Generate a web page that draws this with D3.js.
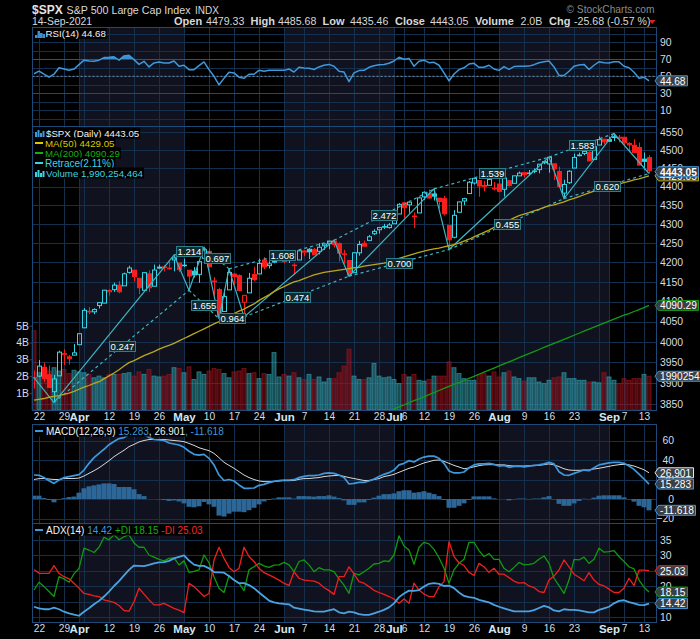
<!DOCTYPE html>
<html>
<head>
<meta charset="utf-8">
<script src="https://cdn.jsdelivr.net/npm/d3@7"></script>
<style>
html, body { margin: 0; padding: 0; background: #000; }
svg { display: block; }
text { font-family: "Liberation Sans", Arial, sans-serif; }
</style>
</head>
<body>
<svg id="chart" width="700" height="639"></svg>
<script>
// trading days shown on the chart
const dates = ["Mar 19","Mar 22","Mar 23","Mar 24","Mar 25","Mar 26","Mar 29","Mar 30","Mar 31","Apr 1",
  "Apr 5","Apr 6","Apr 7","Apr 8","Apr 9","Apr 12","Apr 13","Apr 14","Apr 15","Apr 16",
  "Apr 19","Apr 20","Apr 21","Apr 22","Apr 23","Apr 26","Apr 27","Apr 28","Apr 29","Apr 30",
  "May 3","May 4","May 5","May 6","May 7","May 10","May 11","May 12","May 13","May 14",
  "May 17","May 18","May 19","May 20","May 21","May 24","May 25","May 26","May 27","May 28",
  "Jun 1","Jun 2","Jun 3","Jun 4","Jun 7","Jun 8","Jun 9","Jun 10","Jun 11","Jun 14",
  "Jun 15","Jun 16","Jun 17","Jun 18","Jun 21","Jun 22","Jun 23","Jun 24","Jun 25","Jun 28",
  "Jun 29","Jun 30","Jul 1","Jul 2","Jul 6","Jul 7","Jul 8","Jul 9","Jul 12","Jul 13",
  "Jul 14","Jul 15","Jul 16","Jul 19","Jul 20","Jul 21","Jul 22","Jul 23","Jul 26","Jul 27",
  "Jul 28","Jul 29","Jul 30","Aug 2","Aug 3","Aug 4","Aug 5","Aug 6","Aug 9","Aug 10",
  "Aug 11","Aug 12","Aug 13","Aug 16","Aug 17","Aug 18","Aug 19","Aug 20","Aug 23","Aug 24",
  "Aug 25","Aug 26","Aug 27","Aug 30","Aug 31","Sep 1","Sep 2","Sep 3","Sep 7","Sep 8",
  "Sep 9","Sep 10","Sep 13","Sep 14"];

const opens = [3913.14,3916.48,3937.6,3919.93,3879.34,3917.12,3969.31,3963.34,3967.25,3992.78,
  4034.44,4075.57,4074.29,4089.95,4096.11,4124.71,4130.1,4141.58,4139.76,4174.14,
  4179.8,4159.18,4128.42,4170.46,4138.78,4185.03,4188.25,4185.14,4206.14,4198.1,
  4191.98,4179.8,4177.06,4169.14,4210.34,4228.29,4150.34,4130.55,4074.99,4129.58,
  4169.92,4165.94,4098.45,4121.97,4168.61,4170.16,4205.94,4191.59,4201.94,4210.77,
  4216.52,4206.82,4191.43,4206.05,4229.34,4233.81,4232.99,4228.56,4242.9,4248.31,
  4255.28,4248.87,4220.37,4204.78,4173.4,4224.61,4249.27,4256.97,4274.45,4284.9,
  4293.21,4290.65,4300.73,4326.6,4356.46,4351.01,4321.07,4329.38,4372.41,4381.07,
  4380.11,4369.02,4367.43,4296.4,4265.11,4331.13,4361.27,4381.2,4409.58,4416.38,
  4402.95,4403.59,4395.26,4406.86,4392.74,4415.95,4408.86,4429.07,4437.77,4435.79,
  4442.18,4446.08,4464.84,4461.65,4462.12,4440.94,4382.44,4410.56,4450.29,4484.4,
  4490.45,4493.75,4474.1,4513.76,4529.75,4528.8,4534.48,4532.42,4535.38,4518.09,
  4513.02,4506.92,4474.81,4479.33];
const highs = [3930.12,3955.31,3949.13,3942.08,3919.54,3978.19,3981.83,3968.01,3994.41,4020.63,
  4083.42,4086.23,4083.13,4098.19,4129.48,4131.76,4148,4151.69,4173.49,4191.31,
  4180.81,4159.18,4175.02,4179.57,4194.17,4194.19,4193.35,4201.53,4218.78,4198.1,
  4209.39,4179.8,4187.72,4202.7,4238.04,4236.39,4162.04,4134.73,4131.58,4183.13,
  4171.92,4169.15,4116.93,4172.8,4188.72,4209.52,4213.42,4202.61,4213.38,4218.36,
  4234.12,4217.37,4197.82,4233.45,4232.34,4236.74,4237.09,4249.74,4248.38,4255.59,
  4257.16,4251.89,4232.29,4204.78,4226.24,4255.84,4256.6,4271.28,4286.12,4292.14,
  4300.52,4302.43,4320.66,4355.43,4356.46,4361.88,4330.88,4371.6,4386.68,4392.37,
  4393.68,4369.02,4375.09,4296.4,4336.84,4359.7,4369.87,4415.18,4422.73,4416.38,
  4415.47,4429.97,4412.25,4422.18,4423.79,4416.17,4429.76,4440.82,4439.39,4445.21,
  4449.44,4461.77,4468.37,4480.26,4462.12,4454.32,4418.61,4444.35,4489.88,4492.81,
  4501.71,4495.9,4513.33,4537.36,4531.39,4537.11,4545.85,4541.45,4535.38,4521.79,
  4529.9,4520.47,4492.99,4485.68];
const lows = [3886.75,3914.16,3901.57,3889.07,3853.5,3917.12,3943.25,3944.35,3966.98,3992.78,
  4034.44,4068.14,4068.31,4082.54,4095.51,4114.82,4124.43,4120.87,4139.76,4170.75,
  4150.47,4118.38,4126.01,4123.69,4138.78,4182.36,4176.22,4181.78,4176.81,4174.85,
  4188.03,4128.59,4160.94,4147.33,4201.64,4188.13,4111.53,4056.88,4074.99,4129.58,
  4142.69,4125.99,4061.41,4121.97,4151.72,4170.16,4182.52,4184.11,4197.78,4203.57,
  4197.59,4198.27,4167.38,4206.05,4215.66,4208.41,4218.74,4220.34,4232.25,4234.07,
  4238.35,4202.45,4196.05,4164.4,4173.4,4217.27,4241.43,4256.97,4271.16,4274.67,
  4287.04,4287.96,4300.73,4326.6,4314.37,4329.79,4289.37,4329.38,4364.03,4366.92,
  4362.36,4340.7,4322.53,4233.13,4262.05,4331.13,4350.06,4381.2,4405.45,4372.51,
  4387.01,4403.59,4389.65,4384.81,4373,4400.23,4408.86,4429.07,4424.74,4430.03,
  4436.42,4435.96,4460.82,4437.66,4417.83,4397.59,4367.73,4406.8,4450.29,4482.28,
  4485.66,4468.99,4474.1,4513.76,4515.8,4522.02,4524.66,4521.3,4513,4493.95,
  4492.07,4457.66,4445.7,4435.46];
const closes = [3913.1,3940.59,3910.52,3889.14,3909.52,3974.54,3971.09,3958.55,3972.89,4019.87,
  4077.91,4073.94,4079.95,4097.17,4128.8,4127.99,4141.59,4124.66,4170.42,4185.47,
  4163.26,4134.94,4173.42,4134.98,4180.17,4187.62,4186.72,4183.18,4211.47,4181.17,
  4192.66,4164.66,4167.59,4201.62,4232.6,4188.43,4152.1,4063.04,4112.5,4173.85,
  4163.29,4127.83,4115.68,4159.12,4155.86,4197.05,4188.13,4195.99,4200.88,4204.11,
  4202.04,4208.12,4192.85,4229.89,4226.52,4227.26,4219.55,4239.18,4247.44,4255.15,
  4246.59,4223.7,4221.86,4166.45,4224.79,4246.44,4241.84,4266.49,4280.7,4290.61,
  4291.8,4297.5,4319.94,4352.34,4343.54,4358.13,4320.82,4369.55,4384.63,4369.21,
  4374.3,4360.03,4327.16,4258.49,4323.06,4358.69,4367.48,4411.79,4422.3,4401.46,
  4400.64,4419.15,4395.26,4387.16,4423.15,4402.66,4429.1,4436.52,4432.35,4436.75,
  4442.41,4460.83,4468,4479.71,4448.08,4400.27,4405.8,4441.67,4479.53,4486.23,
  4496.19,4470,4509.37,4528.79,4522.68,4524.09,4536.95,4535.43,4520.03,4514.07,
  4493.28,4458.58,4468.73,4443.05];
const closeBefore = 3915.46; // close of the day before the first bar

// volume in billions
const volumes = [4.7,2.2,2.35,2.3,2.5,2.3,2.4,2.15,2.35,2.25,
  2.2,2.1,1.9,2,1.9,2.1,2.1,2.1,2.15,2.2,
  2,2.25,2.1,2.4,2,1.95,2,2.1,2.5,2.45,
  2.2,2.55,1.8,2.25,2.1,2.3,2.45,2.4,2.15,1.9,
  2.25,2.3,2.45,2.15,2.2,1.85,2.15,2.1,3.4,1.95,
  2.1,2,2.2,1.9,1.8,2.1,1.8,1.95,1.65,1.85,
  1.85,2.2,2.6,3.6,2,1.8,1.8,1.9,2.75,2,
  1.9,1.95,1.8,1.55,2.1,1.95,2.1,1.75,1.7,1.8,
  2,2,2,2.85,2.5,2.15,1.85,1.75,1.75,2.1,
  2.15,2,2.25,1.95,2.2,2.3,1.95,1.85,1.7,1.9,
  1.9,1.65,1.55,1.75,1.9,1.95,2.2,1.85,1.85,1.75,
  1.75,1.65,1.65,1.6,2.2,1.95,1.75,1.55,1.85,1.75,
  1.85,1.85,2.1,1.99];

const ma50 = [3859,3861,3863,3866,3868,3870,3873,3876,3880,3885,
  3890,3894,3899,3903,3910,3917,3924,3932,3941,3949,
  3954,3960,3966,3971,3976,3982,3987,3991,3996,4002,
  4008,4014,4020,4026,4032,4038,4044,4050,4057,4063,
  4070,4076,4081,4088,4094,4103,4110,4117,4125,4132,
  4138,4144,4150,4153,4158,4163,4168,4171,4174,4176,
  4178,4180,4182,4184,4186,4187,4190,4192,4194,4196,
  4198,4201,4205,4210,4214,4218,4222,4226,4229,4232,
  4235,4237,4240,4243,4246,4250,4255,4260,4266,4272,
  4278,4284,4291,4297,4303,4310,4316,4322,4326,4330,
  4335,4339,4344,4348,4351,4355,4359,4364,4368,4373,
  4378,4383,4388,4393,4398,4401,4404,4407,4411,4414,
  4418,4421,4425,4429.05];

// MA(200) only enters the panel at the end of June
const ma200Dates = dates.slice(71);
const ma200 = [3833,3838,3843,3848,3853,3858,3862,3867,3872,3877,
  3882,3887,3892,3897,3901,3906,3911,3916,3921,3926,
  3931,3936,3941,3946,3951,3956,3961,3966,3971,3976,
  3981,3986,3991,3996,4001,4006,4011,4016,4021,4026,
  4031,4036,4041,4046,4051,4056,4061,4066,4070,4075,
  4080,4085,4090.29];

// Retrace pivots
const retraceDates = ["Mar 19","Mar 25","Apr 29","May 4","May 7","May 12","May 14","May 19","Jun 15","Jun 18","Jul 14","Jul 19","Aug 16","Aug 19","Sep 2","Sep 14"];
const retracePrices = [3913.1,3853.5,4218.78,4128.59,4238.04,4056.88,4183.13,4061.41,4257.16,4164.4,4393.68,4233.13,4480.26,4367.73,4545.85,4435.46];
const retraceRatios = ["0.247","1.214","1.655","0.697","0.964","1.608","0.474","2.472","0.700","1.539","0.455","1.583","0.620"];

const rsi = [53,56,52.5,49,52.5,60,58.5,57,58.5,63.7,
  69,68,67.6,69,72,72.4,73,69,74,74.7,
  69.6,64,67.6,61,65.7,66.9,65.7,65.7,68,61.8,
  63,57.8,57.8,62.5,66.9,57.8,50,40,47.6,54.7,
  54,49,47.6,52.4,52.4,57,56,57,57,57,
  57,58.6,55,60.6,59.8,59.4,58,61,63,64,
  61.8,56,55,43.7,54,56.7,57,60.6,62.5,63.7,
  64,65.3,68,72.4,70,71,61.8,67.6,69,66,
  66.5,63,54,44.5,52.7,57.8,60,64.5,65.3,60.6,
  60.6,63,58.6,57,61.4,58.2,61.4,61.8,61.8,62,
  63.7,66,67,68,61,51,51,56,61.8,63.3,
  64,58,63,67,66,65.7,67,67,61.8,60,
  54.7,47.6,49,44.68];

const macd = [24.6,24.3,22,18.8,16,19.5,22,23,24,25,
  29.7,36.6,42.4,46.8,51,55.7,59,62,63,66,
  69,70.8,66.7,63,61,60.5,60,57.4,56.4,55.4,
  53,49,45.8,45,45.8,41.7,34.9,24.6,19,20,
  18.5,14.4,11,11,11.3,14,15,16.8,18,18.8,
  19.5,19.5,19.8,21.9,23.2,24,24,24.6,26.3,26.7,
  26.3,24.6,22,15.4,16,17,17,18.5,20.5,23,
  25.3,27,29.7,35,36.6,39.3,38,41,43,44,
  44,41.7,36.6,28.7,26.7,26.7,27.7,32,35,36,
  36,36.6,35.5,33.8,34.5,32.5,33.5,33.8,33,33.8,
  34.5,35,36,37.6,36,28,24.6,24.3,26.3,28,
  29.7,29,32,35,36,37,37.6,37.6,36.6,33.8,
  30.4,25.6,20.5,15.283];
const macdSignal = [20,20.9,21,20.5,20,20,21,21,21,21.5,
  23.6,26.3,29,32,35.6,39.3,43.4,46.8,50,53.7,
  56,58.5,60,61,61,61,61,60.5,60,59.5,
  58.8,57,55,52.6,51,49.6,46.8,42.4,37.6,34.5,
  31.5,28,24.6,22,20,18.5,17.8,17.8,18,18.5,
  18.8,18.8,19,20.2,20.9,21,21.5,22,23,23.6,
  24,24.3,23.2,22,21,20,19,19,20,20.9,
  23,24,25.3,27.4,29.4,31.5,32.8,35,37,38.3,
  39.7,40,38.6,36.6,34.5,32.8,31,31.8,33,34.2,
  35,35.2,35.2,35,35,34.2,33.8,33.8,33.8,34.2,
  34.2,34.5,35.2,36,35,33.2,31,29.7,29.4,29.4,
  29.7,29.7,30.8,31.5,32.5,33.5,34.5,35.2,35.6,35,
  33.8,32,30,26.901];
const macdHist = [3.4,3.4,1,-1,-3.4,-0.5,0.8,2,2.5,6.5,
  11,13,14,15,16,16,15.4,12.3,12.3,12.3,
  10,5,3,0,0,-0.3,-1,-2,-1.5,-2.5,
  -4.5,-8,-8.5,-7.5,-3,-5.5,-8,-17,-18,-15,
  -13,-13,-13.5,-11.5,-9,-5.5,-2.5,-1,0.5,1.7,
  1.7,1.7,0.5,3,3,2.8,2.4,3,3,3.8,
  2.5,1,-1.5,-6,-6,-3.5,-3.5,-1,1.4,3.4,
  5,5,5.8,8,9,9,6.5,7,8,6.5,
  5,3,-1,-9,-9,-7,-4.5,-1,2.7,2.7,
  2.7,2.7,0.7,0,0,-1.4,-0.3,0.5,0.5,-0.3,
  0.5,0.5,1.7,3,-0.3,-5,-7,-7,-4.5,-2,
  0.3,-0.3,1.4,3.4,3.8,3.8,3.8,3.8,1.7,-0.3,
  -2.7,-7,-8.5,-11.618];

const adx = [13.4,12.9,12.6,12.6,13.1,12.6,11.8,11.3,10.9,10.5,
  11.8,12.9,14.2,15.3,16.7,18.3,20.1,21.7,23.5,25.3,
  26.7,26.6,26.5,26.9,27.4,27.7,27.8,28.2,29,29.5,
  30,28.3,27,26.6,26.6,25.8,24.6,24.5,24.4,23.3,
  22,21,21,20.4,19.4,18,16.7,15.4,14.8,14.5,
  14.3,14.2,13.1,12.8,12.5,12.2,11.9,11.8,11.8,12.2,
  12.6,11.6,11.3,11.8,11.6,11,10.8,10.8,11.3,11.8,
  12.4,13.2,14.5,16.5,17.7,18.6,18.5,18.8,19.9,20.8,
  21,20.8,20.1,20.2,19.4,18,16.9,16.5,16.3,15.6,
  15.2,14.8,14,13.4,12.9,12.4,11.9,11.9,11.9,11.9,
  12.3,13,13.7,13.2,12.2,11.9,12.6,12.4,12.4,12.2,
  11.9,11.6,11.6,12.4,12.9,13.4,14.5,15.3,15.5,14.9,
  14.5,14,13.9,14.42];
const plusDI = [18.8,21.3,19.9,18.3,16.7,23.1,22.4,21.3,24,25.8,
  32.3,31.7,30.9,32.6,35.8,35,36.6,35,36,36.6,
  34,32.6,32.6,30.1,29.4,28.7,28.2,29,29.2,26.9,
  28.2,24.5,24.8,25.3,30.1,27.6,23.1,19.4,18,23.4,
  22,21,18.6,25.3,26.3,27.4,26.6,26.1,26.8,26.9,
  27.7,26.9,24.7,28,28.5,26.9,24.7,26,25.3,25.3,
  24.7,22.4,20.4,17.7,24.2,23.7,24.7,25.8,27.2,27.4,
  28.2,28,30.1,36.3,33,31.7,27.1,32.6,34.2,33.7,
  31.9,29.2,25.8,21,25.3,27.4,28.7,34.2,34.2,31.5,
  29.6,30.6,28.7,28.7,25.8,24.7,26.1,27.7,26.9,27.1,
  27.4,28.7,29.8,27.4,22.6,20.2,17.7,22,28.7,28.5,
  29.4,27.4,28.7,32.3,31,31.2,31.5,29.6,28,26.3,
  25.6,22,19.7,18.15];
const minusDI = [25.4,24.2,24.2,24.2,26.7,24.2,23.1,22.4,21,19.4,
  17.7,17.4,16.9,16.7,15.6,15.2,14.8,13.8,12.2,12,
  15,19.4,17.5,15.6,14,14,14.5,13.7,12.9,12.3,
  11.5,21,19.9,18.3,16.7,17.7,28.5,32.6,29,26.1,
  24.7,25.8,32.6,29.6,28,25.8,24.4,23.7,22.9,22,
  21,20.2,24.7,22.6,22,21.8,21.7,21,19.6,18.6,
  17.4,23.1,23.1,26.3,24,21.5,21,19.9,18.7,18,
  17.4,16.7,15.9,14.5,15.9,14.5,21,18.8,17.5,16.7,
  16.7,19.9,21.5,34.4,29.6,27.6,26.7,24.5,23.5,27.4,
  26.3,24.5,25.8,23.9,23.9,22.8,21.7,21,21.2,20.1,
  19.6,18.3,18,22,23.3,25.3,28.5,26.3,23.9,22.9,
  21.8,24.4,22,20.6,20.1,19.1,18,18,19.4,22.6,
  20.2,25.2,25.2,25.03];

// axis tick values and labels
const gridDates = ["Mar 22","Mar 29","Apr 1","Apr 5","Apr 12","Apr 19","Apr 26","May 3","May 10","May 17","May 24","Jun 1","Jun 7","Jun 14","Jun 21","Jun 28","Jul 1","Jul 6","Jul 12","Jul 19","Jul 26","Aug 2","Aug 9","Aug 16","Aug 23","Aug 30","Sep 1","Sep 7","Sep 13"];
const xTickDates = ["Mar 22","Mar 29","Apr 1","Apr 12","Apr 19","Apr 26","May 3","May 10","May 17","May 24","Jun 1","Jun 7","Jun 14","Jun 21","Jun 28","Jul 1","Jul 6","Jul 12","Jul 19","Jul 26","Aug 2","Aug 9","Aug 16","Aug 23","Sep 1","Sep 7","Sep 13"];
const xTickLabels = ["22","29","Apr","12","19","26","May","10","17","24","Jun","7","14","21","28","Jul","6","12","19","26","Aug","9","16","23","Sep","7","13"];
const shadeStarts = ["Apr 1","Jun 1","Aug 2"];
const shadeEnds = ["May 3","Jul 1","Sep 1"];
const rsiTicks = [90,70,50,30,10];
const rsiGrid = [100,90,80,70,60,50,40,30,20,10,0];
const priceTicks = [4550,4500,4450,4400,4350,4300,4250,4200,4150,4100,4050,4000,3950,3900,3850];
const volumeTicks = [1,2,3,4,5];
const macdTicks = [60,40,20,0,-20];
const macdGrid = [60,40,20,0,-20];
const adxTicks = [35,30,20,10];
const adxGrid = [35,30,25,20,15,10];

const left = 32.5, right = 656.5;
const rsiBox = {top: 27.5, bottom: 126.5};
const priceBox = {top: 126.5, bottom: 410.5};
const macdBox = {top: 424.5, bottom: 523.5};
const adxBox = {top: 523.5, bottom: 622.5};

const x = d3.scalePoint().domain(dates).range([34, 649]);
const rsiY = d3.scaleLinear().domain([10, 90]).range([110.3, 42.3]);
const priceY = d3.scaleLog().domain([3850, 4550]).range([404, 132]);
const volumeY = d3.scaleLinear().domain([0, 5]).range([409.7, 325.7]);
const macdY = d3.scaleLinear().domain([0, 60]).range([499, 440.5]);
const adxY = d3.scaleLinear().domain([10, 35]).range([617.3, 539.8]);

const svg = d3.select("#chart");
svg.append("rect").attr("width", 700).attr("height", 639).attr("fill", "#000");

const gridColor = "#14304c";
const borderColor = "#1d4a76";

// Draw the month shading and the grid of one panel
function drawPanel(box, scale, gridValues, strong) {
    let g = svg.append("g");
    shadeStarts.forEach((s, i) => {
        g.append("rect")
            .attr("x", x(s)).attr("width", x(shadeEnds[i]) - x(s))
            .attr("y", box.top).attr("height", box.bottom - box.top)
            .attr("fill", "#11121f");
    });
    g.selectAll(".v").data(gridDates).join("line")
        .attr("x1", d => x(d) + 0.5).attr("x2", d => x(d) + 0.5)
        .attr("y1", box.top).attr("y2", box.bottom)
        .attr("stroke", gridColor);
    g.selectAll(".h").data(gridValues).join("line")
        .attr("x1", left).attr("x2", right)
        .attr("y1", d => Math.round(scale(d)) + 0.5).attr("y2", d => Math.round(scale(d)) + 0.5)
        .attr("stroke", d => (strong || []).includes(d) ? borderColor : gridColor);
}

function drawBorder(box) {
    svg.append("rect")
        .attr("x", left).attr("y", box.top)
        .attr("width", right - left).attr("height", box.bottom - box.top)
        .attr("fill", "none").attr("stroke", borderColor);
}

drawPanel(rsiBox, rsiY, rsiGrid, [70, 30]);
drawPanel(priceBox, priceY, priceTicks);
drawPanel(macdBox, macdY, macdGrid);
drawPanel(adxBox, adxY, adxGrid);

// Clip the lines to their panels
const defs = svg.append("defs");
function addClip(id, top, bottom) {
    defs.append("clipPath").attr("id", id).append("rect")
        .attr("x", left).attr("y", top).attr("width", right - left).attr("height", bottom - top);
}
addClip("clip-price", priceBox.top, priceBox.bottom);
addClip("clip-macd", macdBox.top, macdBox.bottom);
addClip("clip-adx", adxBox.top, adxBox.bottom);
addClip("clip-rsi-high", rsiBox.top, rsiY(70));

// RSI dashed 50 line, fill above 70 and the line itself
svg.append("line").attr("x1", left).attr("x2", right)
    .attr("y1", rsiY(50)).attr("y2", rsiY(50))
    .attr("stroke", "#7c8f9e").attr("stroke-dasharray", "2,2");
svg.append("path").datum(rsi)
    .attr("clip-path", "url(#clip-rsi-high)")
    .attr("fill", "#3b8fd0")
    .attr("d", d3.area().x((d, i) => x(dates[i])).y0(rsiY(70)).y1(d => rsiY(d)));

function seriesLine(values, scale, color, width, clip) {
    let line = d3.line().x((d, i) => x(dates[i])).y(d => scale(d));
    let path = svg.append("path").datum(values)
        .attr("fill", "none").attr("stroke", color)
        .attr("stroke-width", width).attr("stroke-linejoin", "round")
        .attr("d", line);
    if (clip) path.attr("clip-path", "url(#" + clip + ")");
}
seriesLine(rsi, rsiY, "#3f98da", 1.5);

// Volume bars behind the candles
function isUp(i) {
    return closes[i] >= (i === 0 ? closeBefore : closes[i - 1]);
}
svg.append("g").selectAll("rect").data(volumes).join("rect")
    .attr("x", (d, i) => x(dates[i]) - 2)
    .attr("width", 4)
    .attr("y", d => volumeY(d))
    .attr("height", d => volumeY(0) - volumeY(d))
    .attr("fill", (d, i) => isUp(i) ? "rgba(52,170,185,0.45)" : "rgba(170,20,30,0.42)")
    .attr("stroke", (d, i) => isUp(i) ? "rgba(52,170,185,0.6)" : "rgba(170,20,30,0.6)");

// Candles
const cyan = "#37d5e3", red = "#fb1c1c";
const candles = svg.append("g").attr("clip-path", "url(#clip-price)")
    .selectAll("g").data(dates).join("g");
candles.append("line")
    .attr("x1", d => x(d) + 0.5).attr("x2", d => x(d) + 0.5)
    .attr("y1", (d, i) => priceY(highs[i]))
    .attr("y2", (d, i) => priceY(Math.max(opens[i], closes[i])))
    .attr("stroke", (d, i) => isUp(i) ? cyan : red);
candles.append("line")
    .attr("x1", d => x(d) + 0.5).attr("x2", d => x(d) + 0.5)
    .attr("y1", (d, i) => priceY(Math.min(opens[i], closes[i])))
    .attr("y2", (d, i) => priceY(lows[i]))
    .attr("stroke", (d, i) => isUp(i) ? cyan : red);
candles.append("rect")
    .attr("x", d => x(d) - 1.5)
    .attr("width", 4)
    .attr("y", (d, i) => priceY(Math.max(opens[i], closes[i])))
    .attr("height", (d, i) => Math.max(0.5, Math.abs(priceY(opens[i]) - priceY(closes[i]))))
    .attr("fill", (d, i) => closes[i] < opens[i] ? (isUp(i) ? cyan : red) : "none")
    .attr("stroke", (d, i) => isUp(i) ? cyan : red);

// Retrace zigzag, dashed links between alternate pivots, ratio labels
const retraceColor = "#3db5c2";
svg.append("path").datum(retraceDates)
    .attr("fill", "none").attr("stroke", retraceColor).attr("stroke-width", 1.2)
    .attr("d", d3.line().x(d => x(d)).y((d, i) => priceY(retracePrices[i])));
retraceRatios.forEach((ratio, i) => {
    let x1 = x(retraceDates[i + 1]), y1 = priceY(retracePrices[i + 1]);
    let x2 = x(retraceDates[i + 3]), y2 = priceY(retracePrices[i + 3]);
    svg.append("line")
        .attr("x1", x1).attr("y1", y1).attr("x2", x2).attr("y2", y2)
        .attr("stroke", retraceColor).attr("stroke-width", 1.2).attr("stroke-dasharray", "3,3");
});

// Moving averages
seriesLine(ma50, priceY, "#b9a81c", 1.3, "clip-price");
svg.append("path").datum(ma200Dates)
    .attr("clip-path", "url(#clip-price)")
    .attr("fill", "none").attr("stroke", "#149a14").attr("stroke-width", 1.3)
    .attr("d", d3.line().x(d => x(d)).y((d, i) => priceY(ma200[i])));

retraceRatios.forEach((ratio, i) => {
    let mx = (x(retraceDates[i + 1]) + x(retraceDates[i + 3])) / 2;
    let my = (priceY(retracePrices[i + 1]) + priceY(retracePrices[i + 3])) / 2;
    svg.append("rect")
        .attr("x", Math.round(mx - 13) + 0.5).attr("y", Math.round(my - 5) + 0.5).attr("width", 26).attr("height", 10)
        .attr("fill", "#0e2a30").attr("stroke", "#2a7f8a");
    svg.append("text")
        .attr("x", Math.round(mx) + 0.5).attr("y", Math.round(my) + 4).attr("text-anchor", "middle")
        .attr("font-size", 9.5).attr("fill", "#fff").text(ratio);
});

// MACD histogram and lines
svg.append("g").attr("clip-path", "url(#clip-macd)")
    .selectAll("rect").data(macdHist).join("rect")
    .attr("x", (d, i) => x(dates[i]) - 2.5)
    .attr("width", 5)
    .attr("y", d => Math.min(macdY(d), macdY(0)))
    .attr("height", d => Math.abs(macdY(d) - macdY(0)))
    .attr("fill", "#2c6797");
seriesLine(macdSignal, macdY, "#d8d8d8", 1, "clip-macd");
seriesLine(macd, macdY, "#3f98da", 1.7, "clip-macd");

// ADX lines
seriesLine(plusDI, adxY, "#109a10", 1.3, "clip-adx");
seriesLine(minusDI, adxY, "#f01f1f", 1.3, "clip-adx");
seriesLine(adx, adxY, "#4aa3e2", 1.8, "clip-adx");

drawBorder(rsiBox);
drawBorder(priceBox);
drawBorder(macdBox);
drawBorder(adxBox);

// Axes: use d3 axes then restyle them for the dark theme
function styleAxis(g, size) {
    g.select(".domain").remove();
    g.selectAll("line").attr("stroke", borderColor);
    g.selectAll("text").attr("fill", "#d6dde4")
        .attr("font-size", size || 10.4)
        .attr("font-family", "Liberation Sans, Arial, sans-serif");
}
function rightAxis(scale, ticks, anchorEnd) {
    let g = svg.append("g").attr("transform", "translate(" + right + ",0)")
        .call(d3.axisRight(scale).tickValues(ticks).tickSize(0).tickPadding(3.5).tickFormat(d3.format("d")));
    styleAxis(g);
    if (anchorEnd) g.selectAll("text").attr("text-anchor", "end").attr("x", 17.5);
}
rightAxis(rsiY, rsiTicks);
rightAxis(priceY, priceTicks);
rightAxis(macdY, macdTicks, true);
rightAxis(adxY, adxTicks);

const volAxis = svg.append("g").attr("transform", "translate(" + left + ",0)")
    .call(d3.axisLeft(volumeY).tickValues(volumeTicks).tickSize(3).tickPadding(0.5).tickFormat(d => d + "B"));
styleAxis(volAxis);

function bottomAxis(yPos) {
    let g = svg.append("g").attr("transform", "translate(0," + yPos + ")")
        .call(d3.axisBottom(x).tickValues(xTickDates).tickSize(0).tickPadding(2)
            .tickFormat(d => xTickLabels[xTickDates.indexOf(d)]));
    styleAxis(g, 10.2);
    g.selectAll("text").each(function() {
        let t = d3.select(this);
        if (isNaN(+t.text())) t.attr("font-weight", "bold").attr("font-size", 11.5).attr("fill", "#d5e6f2");
    });
}
bottomAxis(410.5);
bottomAxis(622.5);

// Value tags on the right edge
function drawTag(label, y, color, width, bold) {
    svg.append("polygon")
        .attr("points", [[655, y], [658.5, y - 5], [658.5 + width, y - 5], [658.5 + width, y + 5], [658.5, y + 5]].join(" "))
        .attr("fill", "#3a3e46").attr("stroke", color);
    svg.append("text")
        .attr("x", 660).attr("y", y + 3.8)
        .attr("font-size", 10.2).attr("font-weight", bold ? "bold" : "normal")
        .attr("fill", "#fff").text(label);
}
drawTag("44.68", rsiY(44.68), "#3f98da", 29);
drawTag("4429.05", priceY(4429.05), "#b9a81c", 40);
drawTag("4443.05", priceY(4443.05) + 1, "#3f98da", 40, true);
drawTag("4090.29", priceY(4090.29), "#149a14", 40);
drawTag("1990254", volumeY(1.99), "#3f98da", 60);
drawTag("26.901", macdY(26.901), "#e6e6e6", 35);
drawTag("15.283", macdY(15.283), "#3f98da", 35);
drawTag("-11.618", macdY(-11.618), "#3f98da", 37);
drawTag("25.03", adxY(25.03), "#f01f1f", 29);
drawTag("18.15", adxY(18.15), "#149a14", 29);
drawTag("14.42", adxY(14.42), "#3f98da", 29);

// Legend rows: text pieces on a black strip
function legendRow(xPos, y, pieces, size) {
    let g = svg.append("g");
    let bg = g.append("rect").attr("fill", "#000");
    let t = g.append("text").attr("x", xPos).attr("y", y + 3.5).attr("font-size", size || 9.7);
    pieces.forEach(p => t.append("tspan").attr("fill", p[1]).text(p[0]));
    let w = t.node().getComputedTextLength();
    bg.attr("x", xPos - 12).attr("y", y - 5.5).attr("width", w + 13).attr("height", 11);
    return g;
}
const white = "#f2f2f2", blue = "#3f98da", yellow = "#d8c900", green = "#12b012", cyanText = "#3fd3e0", redText = "#f02a2a";

legendRow(45.5, 33.5, [["RSI(14) 44.68", white]]);
legendRow(46, 133, [["$SPX (Daily) 4443.05", white]]);
legendRow(45, 143, [["MA(50) 4429.05", yellow]]);
legendRow(45, 153, [["MA(200) 4090.29", green]]);
legendRow(45, 163, [["Retrace(2.11%)", cyanText]], 10);
legendRow(46, 173, [["Volume 1,990,254,464", cyanText]]);
legendRow(46, 431, [["MACD(12,26,9)", white], [" 15.283", blue], [", 26.901", white], [", -11.618", blue]], 10);
legendRow(46, 530, [["ADX(14)", white], [" 14.42", blue], [" +DI 18.15", green], [" -DI 25.03", redText]], 10);

// Legend icons
function legendDash(y, color) {
    svg.append("rect").attr("x", 35).attr("y", y - 1).attr("width", 8).attr("height", 2).attr("fill", color);
}
legendDash(143, yellow);
legendDash(153, green);
legendDash(163, cyanText);
legendDash(431, blue);
legendDash(530, blue);
[[35, 3], [37.5, 7], [40, 5], [42.5, 4]].forEach(b => {
    svg.append("rect").attr("x", b[0]).attr("y", 38 - b[1]).attr("width", 2.5).attr("height", b[1]).attr("fill", "#3b8fd0");
});
[[35, 5], [37.5, 7], [40, 4], [42.5, 6]].forEach(b => {
    svg.append("rect").attr("x", b[0]).attr("y", 137 - b[1]).attr("width", 2).attr("height", b[1]).attr("fill", "#3f98da");
    svg.append("rect").attr("x", b[0]).attr("y", 177 - b[1]).attr("width", 2).attr("height", b[1]).attr("fill", cyanText);
});

// Header
function header(xPos, y, txt, size, weight, color) {
    svg.append("text").attr("x", xPos).attr("y", y)
        .attr("font-size", size).attr("font-weight", weight || "normal")
        .attr("fill", color || "#d9d9d9").text(txt);
}
header(32, 14, "$SPX", 12, "bold", "#e4e4e4");
header(66.5, 13.5, "S&P 500 Large Cap Index", 10.7);
header(195, 13.5, "INDX", 10);
header(32, 25, "14-Sep-2021", 10.4);
header(174, 25, "Open", 11, "bold");
header(206, 25, "4479.33", 10.6);
header(250.5, 25, "High", 11, "bold");
header(278, 25, "4485.68", 10.6);
header(322.5, 25, "Low", 11, "bold");
header(350, 25, "4435.46", 10.6);
header(395, 25, "Close", 11, "bold");
header(430, 25, "4443.05", 10.6);
header(475, 25, "Volume", 11, "bold");
header(520.5, 25, "2.0B", 10.6);
header(549, 25, "Chg", 11, "bold");
header(574, 25, "-25.68 (-0.57 %)", 10.6);
header(566.5, 13, "© StockCharts.com", 10.2, "normal", "#8a8a8a");
svg.append("polygon").attr("points", "649,20 655.5,20 652.2,24").attr("fill", "#e02020");
</script>
</body>
</html>
